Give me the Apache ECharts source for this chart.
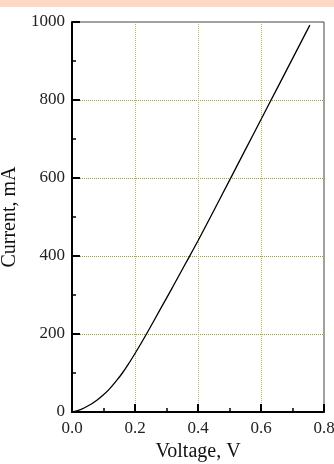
<!DOCTYPE html>
<html><head><meta charset="utf-8">
<style>html,body{margin:0;padding:0;background:#fff}#c{width:334px;height:464px}</style>
<script src="https://cdn.jsdelivr.net/npm/echarts@6/dist/echarts.min.js"></script>
</head><body><div id="c"></div>
<script>
const voltage = [0, 0.02, 0.04, 0.06, 0.08, 0.1, 0.12, 0.14, 0.16, 0.18, 0.2, 0.22, 0.24, 0.28, 0.32, 0.36, 0.4, 0.45, 0.5, 0.55, 0.6, 0.65, 0.7, 0.755];
const current = [0, 4, 11, 20, 31, 44, 60, 79, 100, 124, 150, 177, 205, 263, 321, 380, 439, 516, 594, 672, 750, 828, 906, 992];
const xName = 'Voltage, V';
const yName = 'Current, mA';

const font = 'Liberation Serif';
const chart = echarts.init(document.getElementById('c'), null, {renderer: 'canvas'});
chart.setOption({
  animation: false,
  graphic: [{type: 'rect', left: 0, top: 0, shape: {width: 334, height: 7}, style: {fill: '#fdd8c3'}, silent: true}],
  grid: {left: 72, right: 10, top: 22, bottom: 52, outerBoundsMode: 'none', containLabel: false,
         show: true, borderColor: '#444', borderWidth: 1, backgroundColor: 'transparent'},
  xAxis: {
    type: 'value', min: 0, max: 0.8, interval: 0.2,
    name: xName, nameLocation: 'middle', nameGap: 28,
    nameTextStyle: {fontFamily: font, fontSize: 20, color: '#111'},
    axisLine: {show: true, onZero: false, lineStyle: {color: '#000', width: 2}},
    axisTick: {show: true, inside: true, length: 8, lineStyle: {color: '#000', width: 2}},
    minorTick: {show: true, splitNumber: 2, length: 4, lineStyle: {color: '#000', width: 1.5}},
    axisLabel: {fontFamily: font, fontSize: 17, color: '#222', margin: 8, formatter: v => v.toFixed(1)},
    splitLine: {show: true, showMinLine: false, showMaxLine: false, lineStyle: {color: '#b8b850', type: 'dotted', width: 1}}
  },
  yAxis: {
    type: 'value', min: 0, max: 1000, interval: 200,
    name: yName, nameLocation: 'middle', nameGap: 44,
    nameTextStyle: {fontFamily: font, fontSize: 20, color: '#111'},
    axisLine: {show: true, onZero: false, lineStyle: {color: '#000', width: 2}},
    axisTick: {show: true, inside: true, length: 8, lineStyle: {color: '#000', width: 2}},
    minorTick: {show: true, splitNumber: 2, length: 4, lineStyle: {color: '#000', width: 1.5}},
    axisLabel: {fontFamily: font, fontSize: 17, color: '#222', margin: 7, formatter: v => String(v)},
    splitLine: {show: true, showMinLine: false, showMaxLine: false, lineStyle: {color: '#a0a020', type: 'dotted', width: 1}}
  },
  series: [{
    type: 'line', data: voltage.map((v, i) => [v, current[i]]),
    showSymbol: false, smooth: 0.3,
    lineStyle: {color: '#000', width: 1.3}
  }]
});
</script></body></html>
